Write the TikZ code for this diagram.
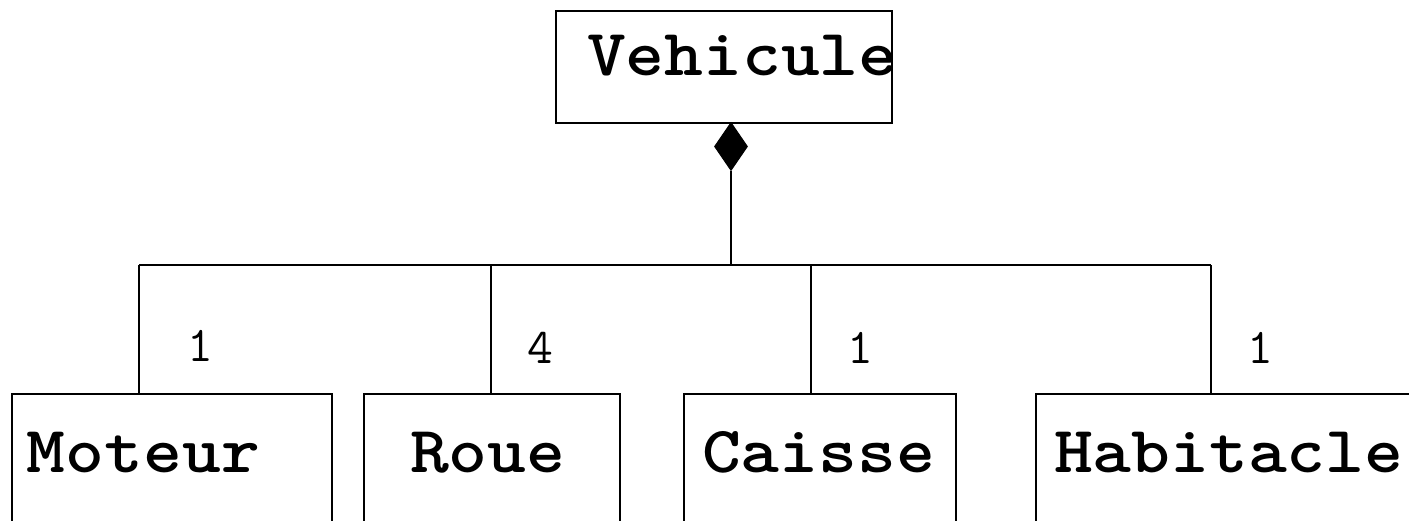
\documentclass[tikz,border=0pt]{standalone}
\usetikzlibrary{shapes.geometric}
\newcommand{\clsfont}{\fontsize{66}{66}\selectfont\ttfamily\bfseries}
\newcommand{\wide}[1]{\scalebox{1.12}[1]{#1}}
\begin{document}
\begin{tikzpicture}[x=1pt,y=-1pt,line width=2pt,
  cls/.style={draw,rectangle,inner sep=0pt,anchor=north west},
  clsname/.style={font=\clsfont,anchor=base west,inner sep=0pt},
  mult/.style={font=\fontsize{50}{50}\selectfont\ttfamily,anchor=base,inner sep=0pt},
  compo/.style={diamond,draw,fill=black,line width=1pt,inner sep=0pt,minimum width=33pt,minimum height=48pt,anchor=north}]
\useasboundingbox (0,0) rectangle (1409,520);
\clip (0,0) rectangle (1409,520);
% classes
\node[cls,minimum width=336pt,minimum height=112pt] (veh) at (555,10) {};
\node[clsname] (vehT) at (586,75) {\wide{Vehicule}};
\node[cls,minimum width=320pt,minimum height=160pt] (mot) at (11,393) {};
\node[clsname] (motT) at (26,472) {\wide{Moteur}};
\node[cls,minimum width=256pt,minimum height=160pt] (roue) at (363,393) {};
\node[clsname] (roueT) at (409,472) {\wide{Roue}};
\node[cls,minimum width=272pt,minimum height=160pt] (cai) at (683,393) {};
\node[clsname] (caiT) at (701,472) {\wide{Caisse}};
\node[cls,minimum width=420pt,minimum height=160pt] (hab) at (1035,393) {};
\node[clsname] (habT) at (1053,472) {\wide{Habitacle}};
% composition
\node[compo] (dia) at (731,122) {};
\coordinate (hub) at (731,265);
\coordinate (b1) at (139,265);
\coordinate (b2) at (491,265);
\coordinate (b3) at (811,265);
\coordinate (b4) at (1211,265);
\draw (dia.south) -- (hub);
\draw (b1) -- (b4);
\draw (b1) -- (b1 |- mot.north);
\draw (b2) -- (b2 |- roue.north);
\draw (b3) -- (b3 |- cai.north);
\draw (b4) -- (b4 |- hab.north);
% multiplicities
\node[mult] (m1) at (200,361) {1};
\node[mult] (m2) at (540,363) {4};
\node[mult] (m3) at (860,363) {1};
\node[mult] (m4) at (1260,363) {1};
\end{tikzpicture}
\end{document}
